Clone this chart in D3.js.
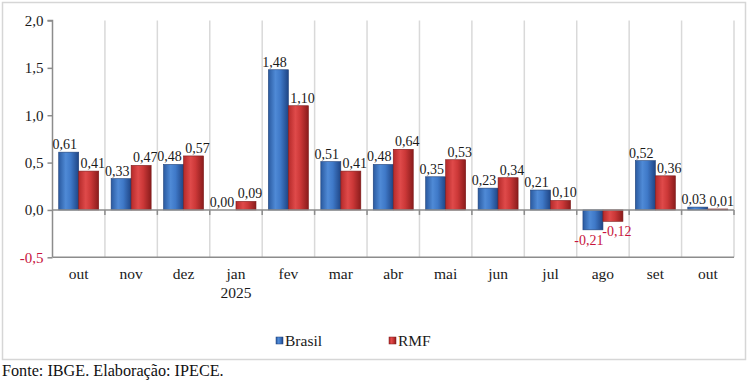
<!DOCTYPE html>
<html><head><meta charset="utf-8">
<script src="https://cdn.jsdelivr.net/npm/d3@7"></script>
<style>
body{margin:0;background:#fff;}
svg{display:block;}
svg text{font-family:"Liberation Serif","Times New Roman",Times,serif !important;}
</style></head>
<body><svg id="c" width="748" height="380"></svg>
<script>
const categories = ["out","nov","dez","jan\n2025","fev","mar","abr","mai","jun","jul","ago","set","out"];
const brasil = [0.61,0.33,0.48,0.00,1.48,0.51,0.48,0.35,0.23,0.21,-0.21,0.52,0.03];
const rmf    = [0.41,0.47,0.57,0.09,1.10,0.41,0.64,0.53,0.34,0.10,-0.12,0.36,0.01];
const yTicks = [-0.5,0,0.5,1.0,1.5,2.0];
const seriesNames = ["Brasil","RMF"];

const svg = d3.select("#c");
const m = {left:52.5, right:734, top:20.5, bottom:257.3};
const fmt = (v,p)=>d3.format("."+p+"f")(v).replace(".",",").replace("\u2212","-");

const defs = svg.append("defs");
function grad(id, stops){
  const g = defs.append("linearGradient").attr("id",id).attr("x1","0").attr("x2","1").attr("y1","0").attr("y2","0");
  stops.forEach(s=>g.append("stop").attr("offset",s[0]).attr("stop-color",s[1]));
}
grad("gb",[[0,"#2a5aa0"],[0.35,"#4f8ad6"],[0.6,"#3f79c8"],[1,"#1f4585"]]);
grad("gr",[[0,"#b52a2a"],[0.35,"#df4a4a"],[0.6,"#cc3838"],[1,"#8a1c1c"]]);

// frame
svg.append("rect").attr("x",2.5).attr("y",2.5).attr("width",743).attr("height",357)
  .attr("fill","#fff").attr("stroke","#d6d6d6").attr("stroke-width",1.5);

const x = d3.scaleBand().domain(d3.range(categories.length)).range([m.left,m.right]).paddingInner(0).paddingOuter(0);
const y = d3.scaleLinear().domain([-0.5,2.0]).range([m.bottom,m.top]);

// vertical gridlines
const bounds = d3.range(1,categories.length+1).map(i=> i<categories.length ? x(i) : m.right);
svg.append("g").selectAll("line").data(bounds).join("line")
  .attr("x1",d=>d).attr("x2",d=>d).attr("y1",m.top).attr("y2",m.bottom)
  .attr("stroke","#d9d9d9").attr("stroke-width",1.5);

// y axis
const yAxis = d3.axisLeft(y).tickValues(yTicks).tickSize(5).tickFormat(d=>fmt(d,1));
const ga = svg.append("g").attr("transform",`translate(${m.left},0)`).call(yAxis);
ga.attr("font-family",null).attr("font-size",null);
ga.select(".domain").attr("stroke","#8c8c8c").attr("stroke-width",1.5).attr("d",`M-5,${y(2)}H0V${m.bottom}`);
ga.selectAll(".tick line").attr("stroke","#8c8c8c").attr("stroke-width",1.5);
ga.selectAll(".tick text").attr("font-size",15)
  .attr("fill",d=>d<0?"#c8143c":"#1a1a1a").attr("x",-9);

// bottom line
svg.append("line").attr("x1",m.left).attr("x2",m.right).attr("y1",m.bottom).attr("y2",m.bottom)
  .attr("stroke","#8c8c8c").attr("stroke-width",1.5);

const bw = 20;
const data = [];
categories.forEach((c,i)=>{
  data.push({i, s:0, v:brasil[i]});
  data.push({i, s:1, v:rmf[i]});
});
const bx = d => x(d.i) + x.bandwidth()/2 + (d.s===0 ? -bw : 0);

svg.append("g").selectAll("rect").data(data).join("rect")
  .attr("x",bx).attr("width",bw)
  .attr("y",d=>Math.min(y(d.v),y(0))).attr("height",d=>Math.abs(y(d.v)-y(0)))
  .attr("fill",d=>d.s===0?"url(#gb)":"url(#gr)")
  .attr("stroke",d=>d.s===0?"#1d3f78":"#7c1818").attr("stroke-width",0.6);

// zero axis with ticks
svg.append("line").attr("x1",m.left).attr("x2",m.right).attr("y1",y(0)).attr("y2",y(0))
  .attr("stroke","#8c8c8c").attr("stroke-width",1.5);
svg.append("g").selectAll("line").data(bounds).join("line")
  .attr("x1",d=>d).attr("x2",d=>d).attr("y1",y(0)).attr("y2",y(0)+5)
  .attr("stroke","#8c8c8c").attr("stroke-width",1.5);

// value labels
svg.append("g").selectAll("text").data(data).join("text")
  .attr("x",d=>bx(d)+bw/2+(d.s===0?-4:4))
  .attr("y",d=>d.v<0 ? y(d.v)+15 : y(d.v)-3)
  .attr("text-anchor","middle").attr("font-size",14)
  .attr("fill",d=>d.v<0?"#c8143c":"#1a1a1a")
  .text(d=>fmt(d.v,2));

// category labels
const cl = svg.append("g").selectAll("text").data(categories).join("text")
  .attr("text-anchor","middle").attr("font-size",15.5).attr("fill","#1a1a1a")
  .attr("x",(d,i)=>x(i)+x.bandwidth()/2).attr("y",279);
cl.each(function(d){
  const parts = d.split("\n");
  parts.forEach((p,k)=>d3.select(this).append("tspan").attr("x",d3.select(this).attr("x")).attr("dy",k===0?0:19).text(p));
});

// legend
const leg = [{n:seriesNames[0],f:"url(#gb)",st:"#1d3f78",x:276},{n:seriesNames[1],f:"url(#gr)",st:"#7c1818",x:389}];
const lg = svg.append("g").selectAll("g").data(leg).join("g").attr("transform",d=>`translate(${d.x},337)`);
lg.append("rect").attr("width",7).attr("height",7).attr("fill",d=>d.f).attr("stroke",d=>d.st).attr("stroke-width",0.5);
lg.append("text").attr("x",9).attr("y",8.5).attr("font-size",15.5).attr("fill","#1a1a1a").text(d=>d.n);

// footer
svg.append("text").attr("x",2).attr("y",376).attr("font-size",16.2).attr("fill","#111")
  .text("Fonte: IBGE. Elaboração: IPECE.");
</script></body></html>
